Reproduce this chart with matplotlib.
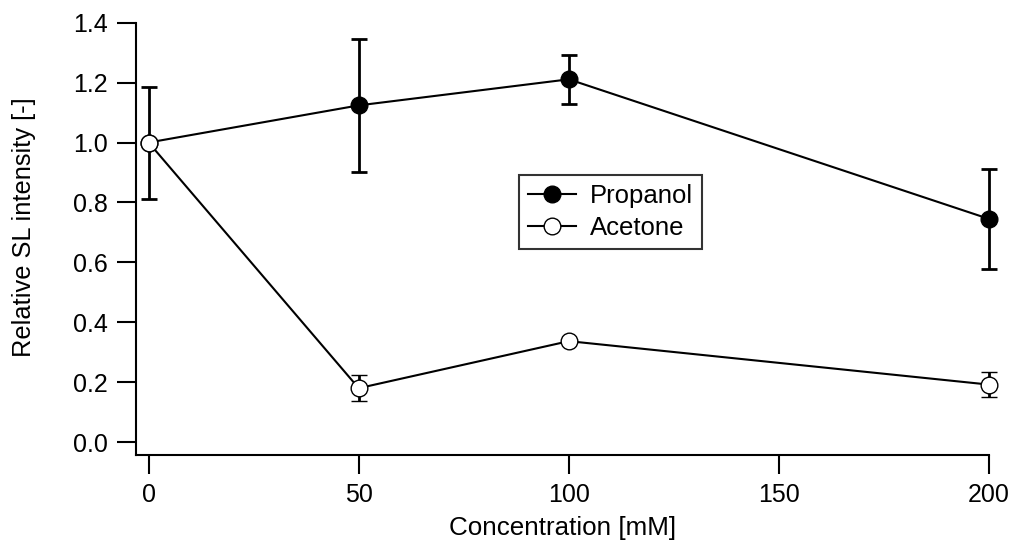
import matplotlib
matplotlib.use("Agg")
import matplotlib.pyplot as plt
from matplotlib.lines import Line2D

plt.rcParams['font.family'] = ['Liberation Sans', 'DejaVu Sans']

conc = [0, 50, 100, 200]
propanol = [1.0, 1.124, 1.211, 0.745]
propanol_err = [0.187, 0.223, 0.081, 0.166]
acetone = [1.0, 0.180, 0.337, 0.192]
acetone_err = [0.0, 0.044, 0.0, 0.041]

fig = plt.figure(figsize=(10.13, 5.48), dpi=100)
ax = fig.add_axes([0.1343, 0.1697, 0.8420, 0.7889])

ax.errorbar(conc, propanol, yerr=propanol_err, color='black', lw=1.5,
            elinewidth=2, capsize=6, capthick=2, marker='o', ms=12,
            mfc='black', mec='black', clip_on=False, zorder=3)
ax.errorbar(conc, acetone, yerr=acetone_err, color='black', lw=1.5,
            elinewidth=2, capsize=6, capthick=2, marker='o', ms=12,
            mfc='white', mec='black', mew=1, clip_on=False, zorder=4)

ax.set_xlim(-3.0, 200)
ax.set_ylim(-0.043, 1.4)
ax.set_xticks([0, 50, 100, 150, 200])
ax.set_yticks([0.0, 0.2, 0.4, 0.6, 0.8, 1.0, 1.2, 1.4])
ax.set_yticklabels([f"{v:.1f}" for v in ax.get_yticks()])
for s in ['top', 'right']:
    ax.spines[s].set_visible(False)
for s in ['left', 'bottom']:
    ax.spines[s].set_linewidth(1.5)
ax.tick_params(direction='out', length=13.5, width=1.5, labelsize=18, pad=7)

ax.set_xlabel("Concentration [mM]", fontsize=18.7, labelpad=6)
ax.set_ylabel("Relative SL intensity [-]", fontsize=18.3)
ax.yaxis.set_label_coords(-0.117, 0.527)

handles = [
    Line2D([], [], color='black', lw=1.5, marker='o', ms=12, mfc='black', mec='black'),
    Line2D([], [], color='black', lw=1.5, marker='o', ms=12, mfc='white', mec='black', mew=1),
]
leg = ax.legend(handles, ['Propanol', 'Acetone'], loc='upper left',
                bbox_to_anchor=(0.449, 0.648), fontsize=18.5,
                frameon=True, fancybox=False, edgecolor='black', handlelength=1.85,
                borderpad=0.35, labelspacing=0.3, handletextpad=0.55, borderaxespad=0)
leg.get_frame().set_linewidth(1.5)

fig.savefig("out.png", dpi=100)
